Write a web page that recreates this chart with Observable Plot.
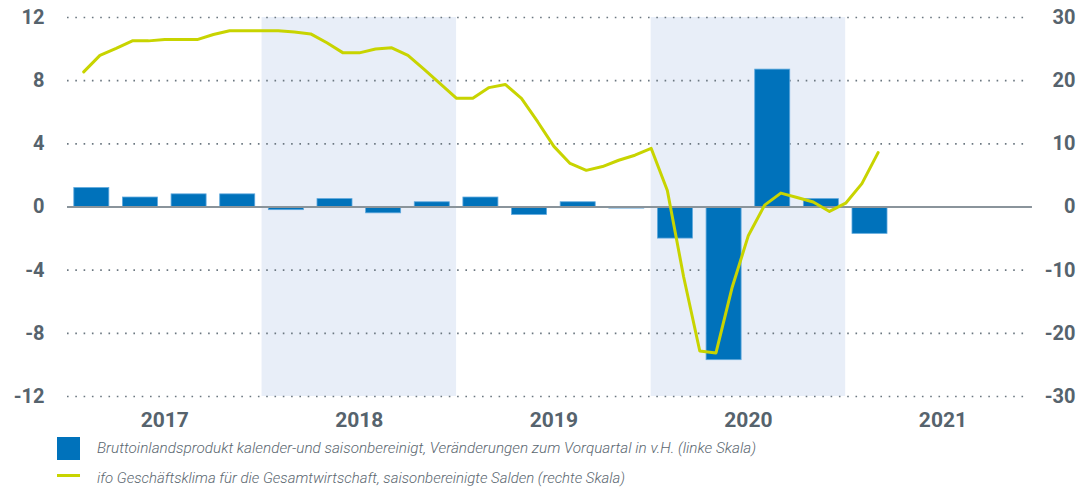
<!DOCTYPE html>
<html><head><meta charset="utf-8">
<script src="https://cdn.jsdelivr.net/npm/d3@7"></script>
<script src="https://cdn.jsdelivr.net/npm/@observablehq/plot@0.6"></script>
<style>
body{margin:0;background:#fff;width:1091px;height:488px;overflow:hidden;position:relative;font-family:"Liberation Sans Narrow","Roboto",sans-serif;}
#chart{position:absolute;left:0;top:0;}
.sw{position:absolute;left:57px;top:437px;width:23px;height:23px;background:#0072bb;}
.ln{position:absolute;left:57px;top:474px;width:23px;height:3px;background:#c8d400;}
.lt{position:absolute;left:97px;font-family:"Roboto",sans-serif;font-style:italic;font-weight:300;color:#5b6770;font-size:15px;line-height:18px;white-space:nowrap;transform-origin:0 50%;}
</style></head><body>
<div id="chart"></div>
<div class="sw"></div>
<div class="lt" id="t1" style="top:439px"></div>
<div class="ln"></div>
<div class="lt" id="t2" style="top:469px"></div>
<script>
// ---- data ----
const quarters = ["2017Q1","2017Q2","2017Q3","2017Q4","2018Q1","2018Q2","2018Q3","2018Q4",
  "2019Q1","2019Q2","2019Q3","2019Q4","2020Q1","2020Q2","2020Q3","2020Q4","2021Q1"];
const gdp = [1.2, 0.6, 0.8, 0.8, -0.2, 0.5, -0.4, 0.3, 0.6, -0.5, 0.3, -0.1, -2.0, -9.7, 8.7, 0.5, -1.7];

const months = ["2017-01","2017-02","2017-03","2017-04","2017-05","2017-06","2017-07","2017-08","2017-09","2017-10","2017-11","2017-12",
  "2018-01","2018-02","2018-03","2018-04","2018-05","2018-06","2018-07","2018-08","2018-09","2018-10","2018-11","2018-12",
  "2019-01","2019-02","2019-03","2019-04","2019-05","2019-06","2019-07","2019-08","2019-09","2019-10","2019-11","2019-12",
  "2020-01","2020-02","2020-03","2020-04","2020-05","2020-06","2020-07","2020-08","2020-09","2020-10","2020-11","2020-12",
  "2021-01","2021-02"];
const ifo = [21.4, 24.0, 25.1, 26.3, 26.3, 26.5, 26.5, 26.5, 27.3, 27.9, 27.9, 27.9,
  27.9, 27.7, 27.4, 26.0, 24.4, 24.4, 25.0, 25.2, 24.0, 21.8, 19.5, 17.2,
  17.2, 18.9, 19.4, 17.2, 13.5, 9.6, 6.9, 5.8, 6.4, 7.4, 8.2, 9.3,
  2.6, -11.0, -22.8, -23.1, -12.7, -4.5, 0.3, 2.2, 1.5, 0.8, -0.7, 0.6,
  3.7, 8.6];

const leftTicks = [-12, -8, -4, 0, 4, 8, 12];
const rightTicks = [-30, -20, -10, 0, 10, 20, 30];
const years = [2017, 2018, 2019, 2020, 2021];
const shadedYears = [2018, 2020];
const legendLabels = [
  "Bruttoinlandsprodukt kalender-und saisonbereinigt, Veränderungen zum Vorquartal in v.H. (linke Skala)",
  "ifo Geschäftsklima für die Gesamtwirtschaft, saisonbereinigte Salden (rechte Skala)"
];

// ---- derived tables ----
const qx = s => +s.slice(0,4) + (+s.slice(5) - 1) / 4;
const bars = quarters.map((q, i) => ({q, x1: qx(q) + 0.035, x2: qx(q) + 0.215, v: gdp[i]}));
const mx = s => +s.slice(0,4) + (+s.slice(5)) / 12;
const line = months.map((m, i) => ({x: mx(m), v: ifo[i] * 12 / 30}));
const xEnd = 2021.95;
const fmt = d => (d < 0 ? "-" + Math.abs(d) : String(d));
const tickColor = "#56636d";

const chart = Plot.plot({
  width: 1091,
  height: 432,
  marginLeft: 67,
  marginRight: 61,
  marginTop: 17,
  marginBottom: 36,
  x: {domain: [2017, xEnd], axis: null},
  y: {domain: [-12, 12], axis: null},
  style: {fontFamily: '"Liberation Sans Narrow","Roboto",sans-serif', background: "#fff"},
  marks: [
    Plot.rect(shadedYears, {x1: d => d, x2: d => d + 1, y1: -12, y2: 12, fill: "#e8eef8"}),
    Plot.ruleY(leftTicks.filter(d => d !== 0), {x1: 2017, x2: xEnd - 0.01, stroke: "#6b7780", strokeWidth: 1.6, strokeDasharray: "1.6 6.7"}),
    Plot.rectY(bars, {x1: "x1", x2: "x2", y1: 0, y2: "v", fill: "#0072bb", stroke: "#5fa8dd", strokeWidth: 0.8}),
    Plot.ruleY([0], {x1: 2017, x2: xEnd + 0.01, stroke: "#8a949b", strokeWidth: 2}),
    Plot.line(line, {x: "x", y: "v", stroke: "#c8d400", strokeWidth: 3, strokeLinejoin: "round"}),
    Plot.text(leftTicks, {y: d => d, text: fmt, frameAnchor: "left", dx: -23, textAnchor: "end", fill: tickColor, fontSize: 20, fontWeight: "bold"}),
    Plot.text(rightTicks, {y: d => d * 12 / 30, text: fmt, frameAnchor: "right", dx: 45, textAnchor: "end", fill: tickColor, fontSize: 20, fontWeight: "bold"}),
    Plot.text(years, {x: d => d + 0.5, text: d => String(d), frameAnchor: "bottom", lineAnchor: "top", dy: 16, fill: tickColor, fontSize: 21, fontWeight: "bold"})
  ]
});
document.getElementById("chart").appendChild(chart);

const targets = [659, 528];
["t1","t2"].forEach((id, i) => {
  const el = document.getElementById(id);
  el.textContent = legendLabels[i];
  const w = el.getBoundingClientRect().width;
  el.style.transform = `scaleX(${targets[i] / w})`;
});
</script>
</body></html>
